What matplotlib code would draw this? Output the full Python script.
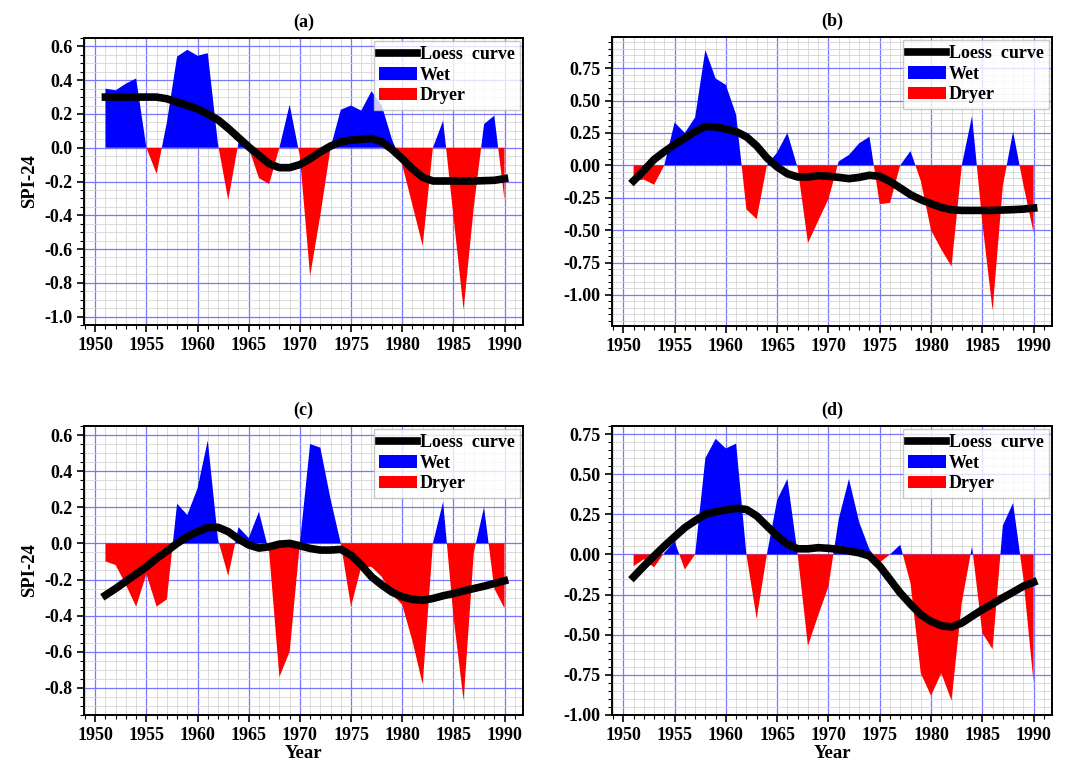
import numpy as np
import matplotlib

matplotlib.use("Agg")
import matplotlib.pyplot as plt
from matplotlib.ticker import MultipleLocator, FormatStrFormatter

plt.rcParams["font.family"] = ["Liberation Serif", "DejaVu Serif"]
plt.rcParams["font.weight"] = "bold"
plt.rcParams["axes.unicode_minus"] = False

years = list(range(1951, 1991))

spi_a = [0.35, 0.34, 0.38, 0.41, 0.0, -0.155, 0.15, 0.54, 0.58, 0.545,
         0.56, 0.02, -0.31, 0.03, 0.0, -0.18, -0.215, 0.0, 0.255, -0.05,
         -0.76, -0.40, 0.0, 0.225, 0.25, 0.22, 0.335, 0.25, 0.05, -0.1,
         -0.34, -0.58, 0.0, 0.16, -0.40, -0.96, -0.35, 0.14, 0.19, -0.31]
loess_a = [0.30, 0.30, 0.30, 0.30, 0.30, 0.30, 0.29, 0.27, 0.25, 0.23,
           0.20, 0.165, 0.115, 0.06, 0.005, -0.045, -0.095, -0.118, -0.118, -0.10,
           -0.065, -0.025, 0.01, 0.035, 0.045, 0.05, 0.055, 0.035, -0.01, -0.065,
           -0.125, -0.175, -0.197, -0.197, -0.197, -0.197, -0.197, -0.195, -0.193, -0.183]

spi_b = [-0.12, -0.11, -0.15, 0.0, 0.33, 0.25, 0.37, 0.89, 0.67, 0.62,
         0.39, -0.34, -0.415, 0.0, 0.1, 0.25, -0.02, -0.6, -0.43, -0.26,
         0.03, 0.08, 0.17, 0.22, -0.3, -0.29, 0.0, 0.11, -0.12, -0.5,
         -0.65, -0.78, 0.0, 0.38, -0.44, -1.12, -0.16, 0.26, -0.15, -0.52]
loess_b = [-0.12, -0.04, 0.045, 0.105, 0.16, 0.21, 0.26, 0.30, 0.296, 0.28,
           0.26, 0.22, 0.15, 0.057, -0.013, -0.065, -0.09, -0.09, -0.08, -0.085,
           -0.093, -0.103, -0.093, -0.077, -0.085, -0.124, -0.175, -0.227, -0.265, -0.296,
           -0.325, -0.343, -0.348, -0.348, -0.348, -0.348, -0.345, -0.342, -0.338, -0.33]

spi_c = [-0.10, -0.12, -0.23, -0.35, -0.17, -0.35, -0.31, 0.22, 0.157, 0.305,
         0.57, 0.02, -0.18, 0.09, 0.03, 0.175, -0.05, -0.74, -0.60, 0.0,
         0.55, 0.53, 0.245, 0.0, -0.35, -0.13, -0.13, -0.185, -0.28, -0.34,
         -0.54, -0.78, 0.0, 0.23, -0.40, -0.87, -0.05, 0.2, -0.25, -0.36]
loess_c = [-0.287, -0.25, -0.21, -0.17, -0.13, -0.083, -0.043, 0.0, 0.037, 0.065,
           0.087, 0.089, 0.065, 0.024, -0.009, -0.026, -0.019, -0.004, 0.0, -0.013,
           -0.028, -0.037, -0.037, -0.033, -0.065, -0.12, -0.185, -0.23, -0.27, -0.296,
           -0.31, -0.315, -0.305, -0.29, -0.278, -0.263, -0.25, -0.237, -0.222, -0.207]

spi_d = [-0.073, -0.03, -0.08, 0.01, 0.08, -0.094, 0.0, 0.6, 0.72, 0.66,
         0.69, 0.0, -0.40, 0.0, 0.34, 0.47, 0.0, -0.57, -0.38, -0.2,
         0.22, 0.47, 0.2, 0.03, -0.05, 0.0, 0.06, -0.18, -0.74, -0.88,
         -0.74, -0.91, -0.3, 0.05, -0.49, -0.59, 0.18, 0.32, -0.15, -0.8]
loess_d = [-0.14, -0.073, -0.01, 0.052, 0.11, 0.167, 0.21, 0.25, 0.265, 0.277,
           0.287, 0.28, 0.24, 0.177, 0.115, 0.063, 0.035, 0.035, 0.042, 0.038,
           0.031, 0.021, 0.01, -0.01, -0.073, -0.156, -0.24, -0.31, -0.375, -0.417,
           -0.444, -0.452, -0.427, -0.385, -0.344, -0.308, -0.27, -0.235, -0.198, -0.173]

panels = [
    ("(a)", spi_a, loess_a, (-1.05, 0.65), 0.2, "%.1f", [0.0787, 0.5757, 0.4114, 0.3747]),
    ("(b)", spi_b, loess_b, (-1.24, 0.99), 0.25, "%.2f", [0.5736, 0.5744, 0.4124, 0.3773]),
    ("(c)", spi_c, loess_c, (-0.95, 0.65), 0.2, "%.1f", [0.0787, 0.0666, 0.4114, 0.3773]),
    ("(d)", spi_d, loess_d, (-1.0, 0.80), 0.25, "%.2f", [0.5736, 0.0666, 0.4124, 0.3773]),
]


def draw_panel(ax, title, spi, loess, ylim, ystep, yfmt):
    x = np.asarray(years, dtype=float)
    y = np.asarray(spi, dtype=float)
    ax.set_axisbelow(True)
    ax.plot(x, loess, color="black", lw=5.5, label="Loess  curve", zorder=4)
    ax.fill_between(x, y, 0, where=y >= 0, interpolate=True, color="#0000ff",
                    lw=0, label="Wet", zorder=3)
    ax.fill_between(x, y, 0, where=y <= 0, interpolate=True, color="#ff0000",
                    lw=0, label="Dryer", zorder=3)
    ax.set_xlim(1948.9, 1991.8)
    ax.set_ylim(*ylim)
    ax.xaxis.set_major_locator(MultipleLocator(5))
    ax.xaxis.set_minor_locator(MultipleLocator(1))
    ax.yaxis.set_major_locator(MultipleLocator(ystep))
    ax.yaxis.set_minor_locator(MultipleLocator(0.05))
    ax.yaxis.set_major_formatter(FormatStrFormatter(yfmt))
    ax.grid(which="major", color="#7777ff", lw=0.9)
    ax.grid(which="minor", color="#d4d4d4", lw=0.6)
    ax.tick_params(which="major", labelsize=13, length=5, width=1.2)
    ax.tick_params(which="minor", length=3, width=0.8)
    for sp in ax.spines.values():
        sp.set_linewidth(1.4)
    ax.set_title(title, fontsize=13, fontweight="bold", pad=8)
    leg = ax.legend(loc="upper right", fontsize=13, frameon=True, fancybox=False,
                    handlelength=2.1, handleheight=0.7, labelspacing=0.2,
                    borderpad=0.3, handletextpad=0.15, borderaxespad=0.15)
    leg.get_frame().set_edgecolor("#bbbbbb")
    leg.get_frame().set_linewidth(1.0)


fig = plt.figure(figsize=(10.67, 7.66), dpi=100)
for title, spi, loess, ylim, ystep, yfmt, rect in panels:
    ax = fig.add_axes(rect)
    draw_panel(ax, title, spi, loess, ylim, ystep, yfmt)
    if title in ("(a)", "(c)"):
        ax.set_ylabel("SPI-24", fontsize=13.5, fontweight="bold", labelpad=4)
    if title in ("(c)", "(d)"):
        ax.set_xlabel("Year", fontsize=13.5, fontweight="bold", labelpad=1)

fig.savefig("out.png", dpi=100)
